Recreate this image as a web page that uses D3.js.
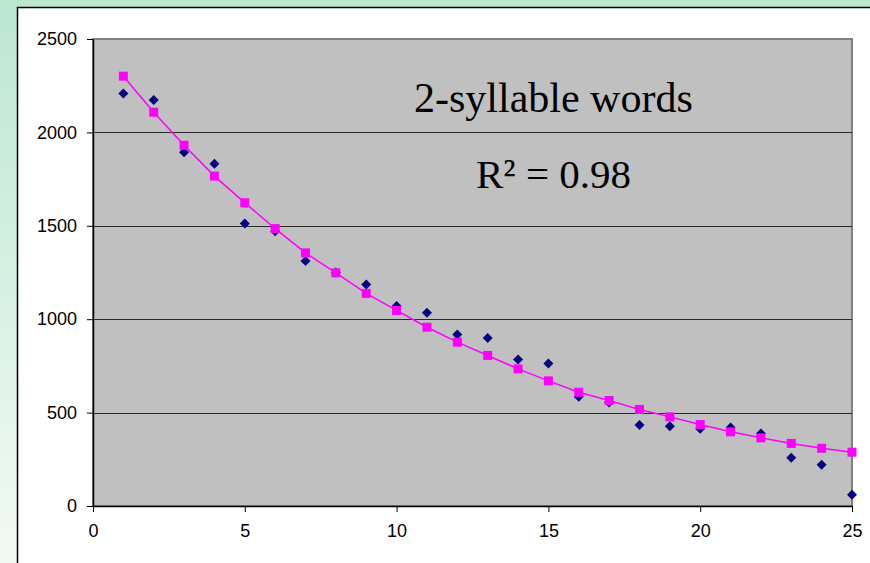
<!DOCTYPE html>
<html>
<head>
<meta charset="utf-8">
<script src="https://cdn.jsdelivr.net/npm/d3@7"></script>
<style>
  html, body { margin: 0; padding: 0; }
  body { width: 870px; height: 563px; overflow: hidden; }
  .tick text { font-family: "Liberation Sans", Arial, sans-serif; font-size: 18px; fill: #000; }
</style>
</head>
<body>
<svg width="870" height="563"></svg>
<script>
'use strict';

// word length rank vs. count (2-syllable words)
var ranks = d3.range(1, 26);
var observed = [2208, 2174, 1894, 1832, 1512, 1471, 1311, 1250, 1186, 1070,
                1034, 918, 900, 784, 763, 585, 554, 433, 427, 414,
                420, 388, 258, 221, 60];
var fitted = [2301, 2108, 1931, 1766, 1623, 1485, 1355, 1248, 1138, 1047,
              957, 877, 806, 734, 670, 609, 565, 517, 477, 436,
              397, 365, 335, 309, 288];
var xTicks = [0, 5, 10, 15, 20, 25];
var yTicks = [0, 500, 1000, 1500, 2000, 2500];
var title = '2-syllable words';
var rLabel = 'R² = 0.98';

var svg = d3.select('svg');

// backdrop
var defs = svg.append('defs');
var grad = defs.append('linearGradient')
    .attr('id', 'bg')
    .attr('x1', 0).attr('y1', 0).attr('x2', 0).attr('y2', 1);
grad.append('stop').attr('offset', '0%').attr('stop-color', '#bce7cf');
grad.append('stop').attr('offset', '100%').attr('stop-color', '#f3faf6');
svg.append('rect').attr('width', 870).attr('height', 563).attr('fill', 'url(#bg)');

// white chart box
svg.append('rect')
    .attr('x', 17.5).attr('y', 7.5)
    .attr('width', 870).attr('height', 570)
    .attr('fill', '#fff')
    .attr('stroke', '#000')
    .attr('stroke-width', 1.5);

var x = d3.scaleLinear().domain([0, 25]).range([93, 852]);
var y = d3.scaleLinear().domain([0, 2500]).range([506, 39]);

// plot area
svg.append('rect')
    .attr('x', x(0)).attr('y', y(2500))
    .attr('width', x(25) - x(0)).attr('height', y(0) - y(2500))
    .attr('fill', '#c0c0c0')
    .attr('stroke', '#808080')
    .attr('stroke-width', 2);

// gridlines
svg.append('g')
    .selectAll('line')
    .data(yTicks.slice(1, -1))
    .enter()
    .append('line')
    .attr('x1', x(0)).attr('x2', x(25))
    .attr('y1', function(d) { return Math.round(y(d)) + 0.5; })
    .attr('y2', function(d) { return Math.round(y(d)) + 0.5; })
    .attr('stroke', '#2a2a2a')
    .attr('stroke-width', 1.2);

// x axis
var xAxis = svg.append('g')
    .attr('transform', 'translate(0,' + y(0) + ')')
    .call(d3.axisBottom(x).tickValues(xTicks).tickFormat(d3.format('d'))
        .tickSize(6).tickPadding(12).tickSizeOuter(0));
xAxis.select('.domain').attr('stroke', '#000').attr('stroke-width', 1.5);
xAxis.selectAll('.tick line').attr('stroke', '#000');

// y axis
var yAxis = svg.append('g')
    .attr('transform', 'translate(' + x(0) + ',0)')
    .call(d3.axisLeft(y).tickValues(yTicks).tickFormat(d3.format('d'))
        .tickSize(6).tickPadding(10).tickSizeOuter(0));
yAxis.select('.domain').attr('stroke', '#000').attr('stroke-width', 1.5);
yAxis.selectAll('.tick line').attr('stroke', '#000');

// fitted curve
var line = d3.line()
    .x(function(d, i) { return x(ranks[i]); })
    .y(function(d) { return y(d); });

svg.append('path')
    .attr('d', line(fitted))
    .attr('fill', 'none')
    .attr('stroke', '#ff00ff')
    .attr('stroke-width', 1.5);

// observed points (diamonds)
svg.append('g')
    .selectAll('path')
    .data(observed)
    .enter()
    .append('path')
    .attr('d', d3.symbol().type(d3.symbolSquare).size(50))
    .attr('transform', function(d, i) {
        return 'translate(' + x(ranks[i]) + ',' + y(d) + ') rotate(45)';
    })
    .attr('fill', '#000080');

// fitted points (squares)
svg.append('g')
    .selectAll('rect')
    .data(fitted)
    .enter()
    .append('rect')
    .attr('x', function(d, i) { return x(ranks[i]) - 4.5; })
    .attr('y', function(d) { return y(d) - 4.5; })
    .attr('width', 9).attr('height', 9)
    .attr('fill', '#ff00ff');

// labels
svg.append('text')
    .attr('x', 414).attr('y', 112)
    .attr('font-family', '"Liberation Serif", "Times New Roman", serif')
    .attr('font-size', 42)
    .text(title);

svg.append('text')
    .attr('x', 476).attr('y', 188)
    .attr('font-family', '"Liberation Serif", "Times New Roman", serif')
    .attr('font-size', 41)
    .text(rLabel);
</script>
</body>
</html>
